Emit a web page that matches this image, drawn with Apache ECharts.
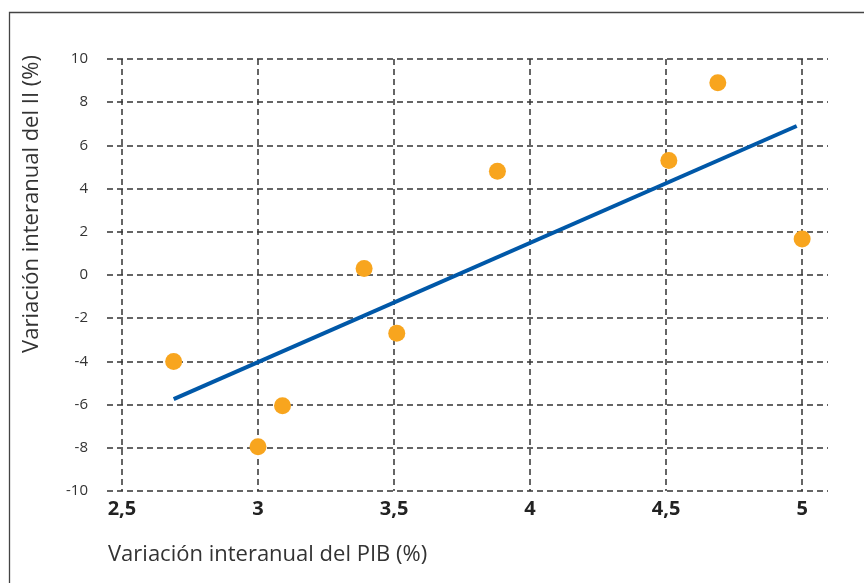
<!DOCTYPE html>
<html>
<head>
<meta charset="utf-8">
<script src="https://cdn.jsdelivr.net/npm/echarts@6/dist/echarts.min.js"></script>
<style>
html,body{margin:0;padding:0;background:#fff;}
#chart{width:864px;height:583px;}
</style>
</head>
<body>
<div id="chart"></div>
<script>
const xTicks = [2.5, 3, 3.5, 4, 4.5, 5];
const yTicks = [-10, -8, -6, -4, -2, 0, 2, 4, 6, 8, 10];
const pibValues = [2.69, 3.0, 3.09, 3.39, 3.51, 3.88, 4.51, 4.69, 5.0];
const iiValues = [-4.0, -7.95, -6.05, 0.3, -2.7, 4.8, 5.3, 8.9, 1.67];
const trendX = [2.69, 4.98];
const trendY = [-5.75, 6.9];
const xTitle = 'Variación interanual del PIB (%)';
const yTitle = 'Variación interanual del II (%)';

const chart = echarts.init(document.getElementById('chart'), null, {renderer: 'canvas'});
const font = '"Open Sans", "Noto Sans", sans-serif';
const gridLine = {show: true, lineStyle: {color: '#333', type: [6, 4], width: 1.5}};
chart.setOption({
  animation: false,
  backgroundColor: '#fff',
  graphic: [{
    type: 'rect', left: 7, top: 10,
    shape: {width: 900, height: 620},
    style: {fill: 'none', stroke: '#444', lineWidth: 1.3}
  }, {
    type: 'text', x: 108, y: 555,
    style: {text: xTitle, font: '22px ' + font, fill: '#333', textAlign: 'left', textVerticalAlign: 'middle'}
  }, {
    type: 'text', x: 32, y: 204, rotation: Math.PI / 2,
    style: {text: yTitle, font: '22px ' + font, fill: '#333', textAlign: 'center', textVerticalAlign: 'middle'}
  }],
  grid: {left: 107, right: 36, top: 59, bottom: 92},
  xAxis: {
    type: 'value', min: 2.445, max: 5.095,
    axisLine: {show: false}, axisTick: {show: false, customValues: xTicks},
    axisLabel: {customValues: xTicks, fontFamily: font, fontSize: 20, fontWeight: 'bold', color: '#222', margin: 8,
      formatter: v => String(v).replace('.', ',')},
    splitLine: gridLine
  },
  yAxis: {
    type: 'value', min: -10, max: 10, interval: 2,
    axisLine: {show: false}, axisTick: {show: false},
    axisLabel: {fontFamily: font, fontSize: 15, color: '#333', margin: 19},
    splitLine: gridLine
  },
  series: [{
    type: 'line',
    data: trendX.map((x, i) => [x, trendY[i]]),
    symbol: 'none',
    lineStyle: {color: '#0058A8', width: 4},
    z: 2
  }, {
    type: 'scatter',
    data: pibValues.map((x, i) => [x, iiValues[i]]),
    symbolSize: 17,
    itemStyle: {color: '#F8A51E', opacity: 1},
    z: 3
  }]
});
</script>
</body>
</html>
